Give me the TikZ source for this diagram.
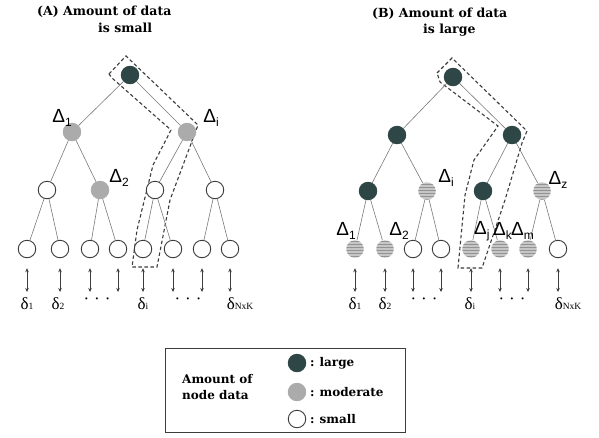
\documentclass[tikz,border=0pt]{standalone}
\usepackage{fontspec}
\setmainfont{DejaVu Serif}
\newfontfamily\dfont{Liberation Sans}
\newfontfamily\lfont{Liberation Serif}
\usetikzlibrary{arrows.meta,patterns}
\definecolor{bigc}{HTML}{2F4646}
\definecolor{midc}{HTML}{ABABAB}
\definecolor{edgec}{HTML}{7A7A7A}
\definecolor{linec}{HTML}{3C3C3C}
\newcommand\dsub[1]{\raisebox{-4pt}{\fontsize{12}{12}\selectfont #1}}
\newcommand\lsub[1]{{\fontsize{9.5}{9.5}\selectfont #1}}
\newcommand\tdots{·\hspace{5pt}·\hspace{5pt}·}
\tikzset{
  nd/.style={circle, minimum size=17.5pt, inner sep=0pt, line width=0.9pt},
  big/.style={nd, fill=bigc, draw=bigc},
  mid/.style={nd, fill=midc, draw=midc},
  midS/.style={nd, fill=gray!45, postaction={pattern=horizontal lines, pattern color=gray!85}},
  sml/.style={nd, draw=linec, fill=white},
  edge/.style={draw=edgec, line width=0.6pt},
  arr/.style={{Stealth[length=4pt,width=3.5pt]}-{Stealth[length=4pt,width=3.5pt]}, draw=linec, line width=0.8pt, shorten <=10pt},
  dashbox/.style={draw=linec, line width=1.1pt, dash pattern=on 3.5pt off 2.5pt},
  ttl/.style={font=\fontsize{12.5}{14}\selectfont\bfseries, inner sep=0pt},
  dl/.style={font=\fontsize{19}{19}\selectfont\dfont, inner sep=0pt},
  delt/.style={font=\fontsize{17}{17}\selectfont\lfont, inner sep=0pt},
  leg/.style={font=\fontsize{12}{16}\selectfont\bfseries, inner sep=0pt}
}
\begin{document}
\begin{tikzpicture}[x=1pt,y=-1pt]
\useasboundingbox (0,0) rectangle (599,437);
\fill[white] (0,0) rectangle (599,437);
% titles
\node[ttl, anchor=west] (tA1) at (37,12) {(A) Amount of data};
\node[ttl, anchor=west] (tA2) at (98,28) {is small};
\node[ttl, anchor=west] (tB1) at (372,14) {(B) Amount of data};
\node[ttl, anchor=west] (tB2) at (423,30) {is large};
% ---------- tree A ----------
\draw[dashbox] (109,74) -- (126,56) -- (198,125) -- (170,200) -- (157,267) -- (132,267) -- (137,230) -- (153,165) -- (171,130) -- (112,78) -- cycle;
\node[big] (a0) at (130,75) {};
\node[mid] (a1) at (72,132) {};
\node[mid] (a2) at (187,132) {};
\node[sml] (a11) at (47,190) {};
\node[mid] (a12) at (100,190) {};
\node[sml] (a21) at (155,190) {};
\node[sml] (a22) at (215,190) {};
\foreach \x [count=\i] in {27,60,90,118,143,173,202,230}{
  \node[sml] (al\i) at (\x,249) {};
  \coordinate (ae\i) at (\x,292);
  \draw[arr] (al\i) -- (ae\i);
}
\draw[edge] (a0)--(a1) (a0)--(a2) (a1)--(a11) (a1)--(a12) (a2)--(a21) (a2)--(a22)
  (a11)--(al1) (a11)--(al2) (a12)--(al3) (a12)--(al4) (a21)--(al5) (a21)--(al6) (a22)--(al7) (a22)--(al8);
\node[dl] (dA1) at (62,118) {Δ\dsub{1}};
\node[dl] (dAi) at (211,118) {Δ\dsub{i}};
\node[dl] (dA2) at (119,178) {Δ\dsub{2}};
\node[delt] (sA1) at (27,304) {δ\lsub{1}};
\node[delt] (sA2) at (58,304) {δ\lsub{2}};
\node[delt] (sA3) at (97,301) {\tdots};
\node[delt] (sA4) at (143,304) {δ\lsub{i}};
\node[delt] (sA5) at (188,301) {\tdots};
\node[delt] (sA6) at (240,304) {δ\lsub{NxK}};
% ---------- tree B ----------
\draw[dashbox] (437,73) -- (452,58) -- (527,131) -- (522,143) -- (505,200) -- (482,268) -- (458,268) -- (465,195) -- (474,160) -- (498,126) -- (440,82) -- cycle;
\node[big] (b0) at (453,77) {};
\node[big] (b1) at (397,135) {};
\node[big] (b2) at (512,135) {};
\node[big] (b11) at (368,191) {};
\node[midS] (b12) at (427,191) {};
\node[big] (b21) at (483,191) {};
\node[midS] (b22) at (542,191) {};
\foreach \x [count=\i] in {355,385,413,441,471,500,528,558}{
  \coordinate (be\i) at (\x,292);
}
\node[midS] (bl1) at (355,249) {};
\node[midS] (bl2) at (385,249) {};
\node[sml] (bl3) at (413,249) {};
\node[sml] (bl4) at (441,249) {};
\node[midS] (bl5) at (471,249) {};
\node[midS] (bl6) at (500,249) {};
\node[midS] (bl7) at (528,249) {};
\node[sml] (bl8) at (558,249) {};
\foreach \i in {1,...,8}{\draw[arr] (bl\i) -- (be\i);}
\draw[edge] (b0)--(b1) (b0)--(b2) (b1)--(b11) (b1)--(b12) (b2)--(b21) (b2)--(b22)
  (b11)--(bl1) (b11)--(bl2) (b12)--(bl3) (b12)--(bl4) (b21)--(bl5) (b21)--(bl6) (b22)--(bl7) (b22)--(bl8);
\node[dl] (dBi) at (446,178) {Δ\dsub{i}};
\node[dl] (dBz) at (558,180) {Δ\dsub{z}};
\node[dl] (dB1) at (346,231) {Δ\dsub{1}};
\node[dl] (dB2) at (399,231) {Δ\dsub{2}};
\node[dl, anchor=west] (dBj) at (474,231) {Δ\dsub{j}};
\node[dl, anchor=west] (dBk) at (493,231) {Δ\dsub{k}};
\node[dl, anchor=west] (dBm) at (511,231) {Δ\dsub{m}};
\node[delt] (sB1) at (355,304) {δ\lsub{1}};
\node[delt] (sB2) at (385,304) {δ\lsub{2}};
\node[delt] (sB3) at (424,301) {\tdots};
\node[delt] (sB4) at (470,304) {δ\lsub{i}};
\node[delt] (sB5) at (512,301) {\tdots};
\node[delt] (sB6) at (568,304) {δ\lsub{NxK}};
% ---------- legend ----------
\node[draw=linec, line width=0.8pt, minimum width=240pt, minimum height=84pt, inner sep=0pt] (lg) at (285,390) {};
\node[leg, anchor=west, align=left] (lgt) at (182,387) {Amount of\\node data};
\node[big] (lc1) at (297,363) {};
\node[mid] (lc2) at (297,392) {};
\node[sml] (lc3) at (297,419) {};
\node[leg, anchor=west] (lt1) at (310,363) {:\hspace{5pt}large};
\node[leg, anchor=west] (lt2) at (310,392) {:\hspace{5pt}moderate};
\node[leg, anchor=west] (lt3) at (310,419) {:\hspace{5pt}small};
\end{tikzpicture}
\end{document}
